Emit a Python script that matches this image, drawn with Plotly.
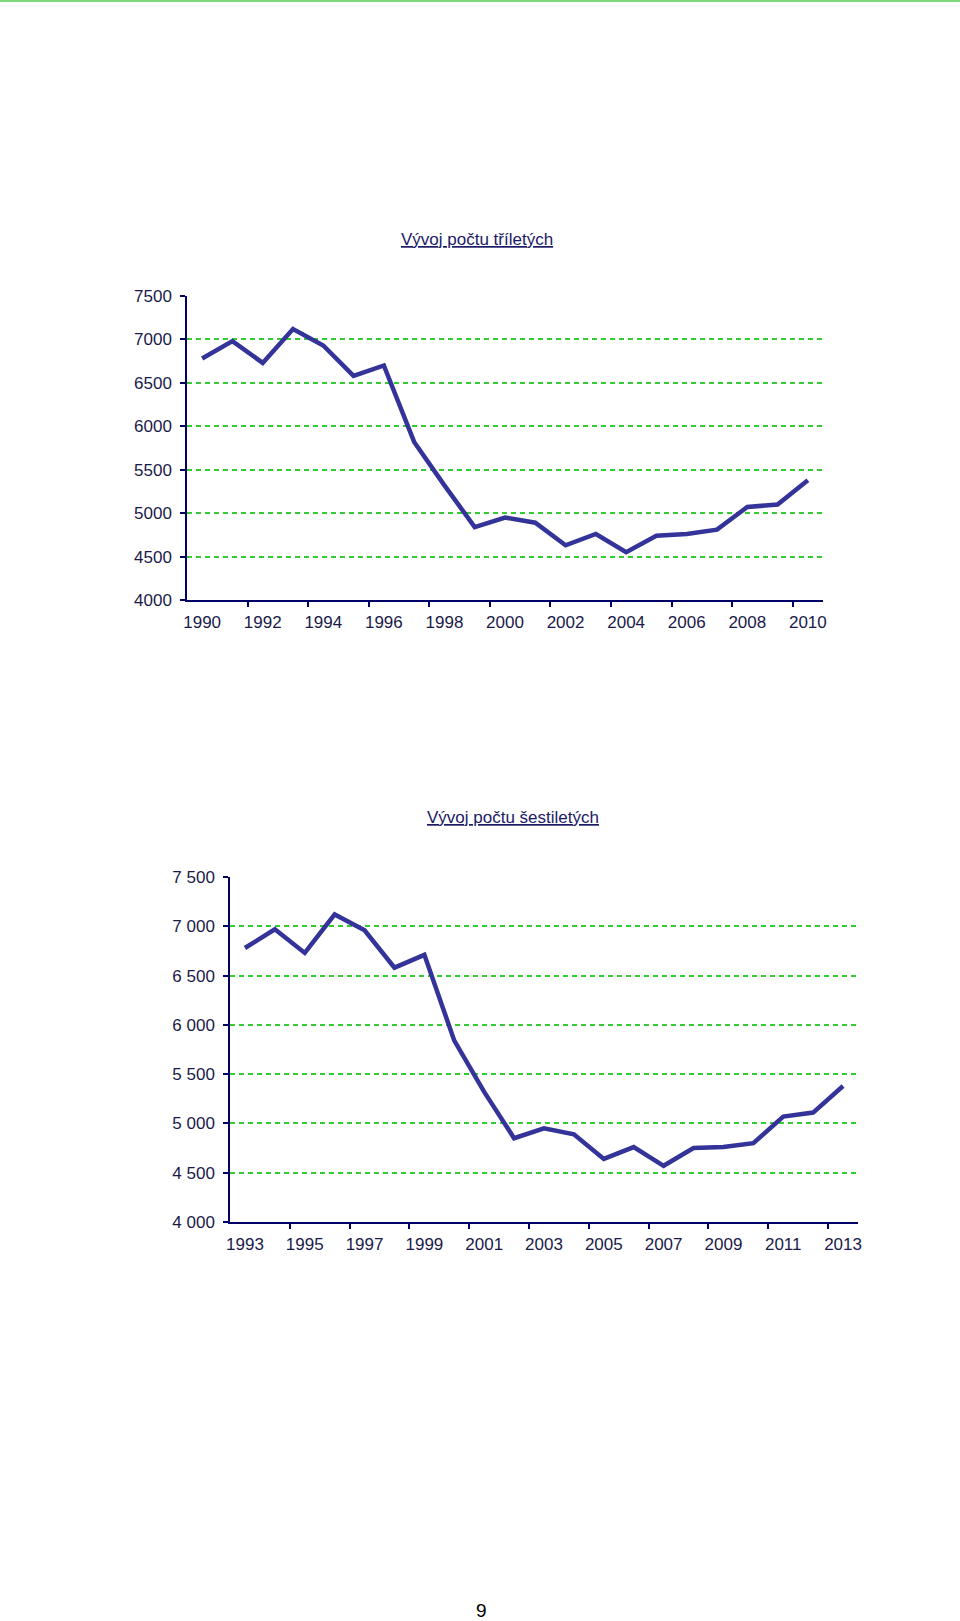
import plotly.graph_objects as go

# ---- data ----
years_3 = list(range(1990, 2011))
counts_3 = [6780, 6980, 6730, 7120, 6930, 6580, 6700, 5820, 5320, 4840, 4950,
            4890, 4630, 4760, 4550, 4740, 4760, 4810, 5070, 5100, 5380]

years_6 = list(range(1993, 2014))
counts_6 = [6780, 6970, 6730, 7120, 6960, 6580, 6710, 5840, 5320, 4850, 4950,
            4890, 4640, 4760, 4570, 4750, 4760, 4800, 5070, 5110, 5380]

title_3 = "Vývoj počtu tříletých"
title_6 = "Vývoj počtu šestiletých"

y_ticks = [4000, 4500, 5000, 5500, 6000, 6500, 7000, 7500]
y_labels_3 = ["4000", "4500", "5000", "5500", "6000", "6500", "7000", "7500"]
y_labels_6 = ["4 000", "4 500", "5 000", "5 500", "6 000", "6 500", "7 000", "7 500"]
grid_3 = [4500, 5000, 5500, 6000, 6500, 7000]
grid_6 = [4500, 5000, 5500, 6000, 6500, 7000, 7500]

page_number = "9"

# ---- styles ----
LINE = "#333399"
AXIS = "#000066"
TXT = "#1a1a4a"
GRID = "#33cc33"
FONT = "Liberation Sans, Arial, sans-serif"

fig = go.Figure()
fig.add_trace(go.Scatter(x=years_3, y=counts_3, mode="lines",
                         line=dict(color=LINE, width=4.5), xaxis="x", yaxis="y",
                         showlegend=False))
fig.add_trace(go.Scatter(x=years_6, y=counts_6, mode="lines",
                         line=dict(color=LINE, width=4.5), xaxis="x2", yaxis="y2",
                         showlegend=False))


def xaxis_cfg(years, domain, anchor):
    label_years = years[::2]
    boundaries = [y - 0.5 for y in years[::2]][1:]
    return dict(
        domain=domain, anchor=anchor,
        range=[years[0] - 0.5, years[-1] + 0.5],
        tickvals=label_years, ticktext=[str(v) for v in label_years],
        ticks="", showgrid=False, zeroline=False,
        showline=True, linecolor=AXIS, linewidth=1.5,
        tickfont=dict(family=FONT, size=17, color=TXT),
        ticklabelstandoff=6, automargin=False,
        minor=dict(tickvals=boundaries, ticks="outside", ticklen=5,
                   tickcolor=AXIS, tickwidth=1.5, showgrid=False),
        fixedrange=True,
    )


def yaxis_cfg(domain, anchor, labels, grid):
    return dict(
        domain=domain, anchor=anchor,
        range=[4000, 7500],
        tickvals=y_ticks, ticktext=labels,
        ticks="outside", ticklen=5, tickcolor=AXIS, tickwidth=1.5,
        showgrid=False, zeroline=False,
        showline=True, linecolor=AXIS, linewidth=1.5,
        tickfont=dict(family=FONT, size=17, color=TXT),
        ticklabelstandoff=5, automargin=False,
        minor=dict(tickvals=grid, ticks="", showgrid=True, gridcolor=GRID,
                   gridwidth=2, griddash="5px,4px"),
        fixedrange=True,
    )


fig.update_layout(
    width=960, height=1621,
    margin=dict(l=0, r=0, t=0, b=0, pad=0, autoexpand=False),
    paper_bgcolor="white", plot_bgcolor="white",
    xaxis=xaxis_cfg(years_3, [187 / 960, 823 / 960], "y"),
    yaxis=yaxis_cfg([1 - 600 / 1621, 1 - 296 / 1621], "x", y_labels_3, grid_3),
    xaxis2=xaxis_cfg(years_6, [230 / 960, 858 / 960], "y2"),
    yaxis2=yaxis_cfg([1 - 1222 / 1621, 1 - 877 / 1621], "x2", y_labels_6, grid_6),
    shapes=[dict(type="rect", xref="paper", yref="paper", x0=0, x1=1,
                 y0=1 - 2 / 1621, y1=1, line=dict(width=0),
                 fillcolor="#7ed87e", layer="above")],
    annotations=[
        dict(text="<u>" + title_3 + "</u>", xref="paper", yref="paper",
             x=477 / 960, y=1 - 239 / 1621, showarrow=False,
             xanchor="center", yanchor="middle",
             font=dict(family=FONT, size=17, color="#1a1a66")),
        dict(text="<u>" + title_6 + "</u>", xref="paper", yref="paper",
             x=513 / 960, y=1 - 817 / 1621, showarrow=False,
             xanchor="center", yanchor="middle",
             font=dict(family=FONT, size=17, color="#1a1a66")),
        dict(text=page_number, xref="paper", yref="paper",
             x=481 / 960, y=1 - 1610 / 1621, showarrow=False,
             xanchor="center", yanchor="middle",
             font=dict(family=FONT, size=19, color="black")),
    ],
)

fig.write_html(
    "out.html",
    config={"displayModeBar": False},
    post_script=(
        "document.documentElement.style.margin='0';"
        "document.documentElement.style.padding='0';"
        "document.documentElement.style.overflow='hidden';"
        "document.body.style.margin='0';"
        "document.body.style.padding='0';"
        "document.body.style.overflow='hidden';"
        "var gd=document.getElementById('{plot_id}');"
        "gd.style.position='fixed';gd.style.top='0';gd.style.left='0';"
    ),
)
